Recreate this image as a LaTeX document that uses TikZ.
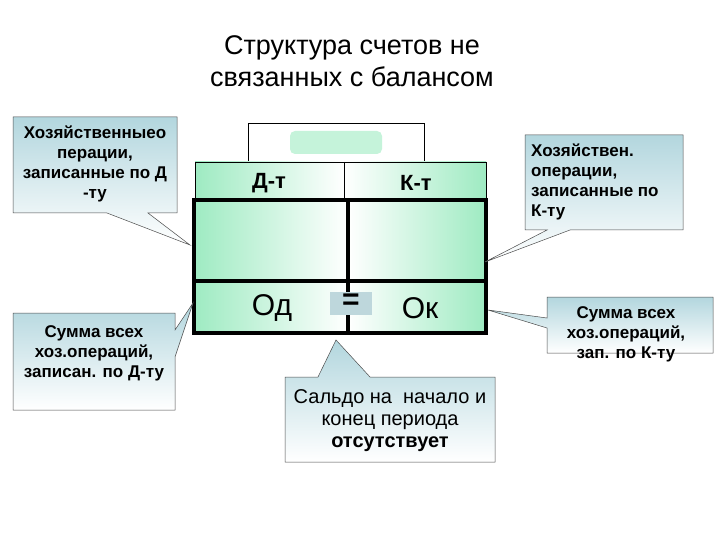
\documentclass[tikz,border=0pt]{standalone}
\usepackage{fontspec}
\setmainfont{Liberation Sans}
\begin{document}
\begin{tikzpicture}[x=1pt,y=-1pt,
  call/.style={draw=black!70,line width=0.5pt,top color=callblue,bottom color=white},
  ctext/.style={font=\fontsize{17}{20}\selectfont\bfseries,align=center,inner sep=0pt},
  thick frame/.style={line width=3.5pt},
  gl/.style={left color=tgreen,right color=white},
  gr/.style={left color=white,right color=tgreen}]
\definecolor{callblue}{rgb}{0.70,0.84,0.87}
\definecolor{tgreen}{rgb}{0.62,0.92,0.76}
\definecolor{eqbox}{RGB}{190,215,220}
\useasboundingbox (0,0) rectangle (720,540);
\fill[white] (0,0) rectangle (720,540);
% title
\node[font=\fontsize{27}{32}\selectfont,align=center] (title) at (352,61) {Структура счетов не\\связанных с балансом};
% top box
\draw[line width=0.6pt] (248,123) rectangle (424,162);
\fill[tgreen!60,rounded corners=5pt] (290,131) rectangle (382,154);
% header
\fill[gl] (195,162) rectangle (344,200);
\fill[gr] (344,162) rectangle (486,200);
\draw[line width=0.6pt] (195,200) -- (195,162) -- (486,162) -- (486,200);
\draw[line width=0.6pt] (344,162) -- (344,200);
% body
\fill[gl] (194,200) rectangle (348,333);
\fill[gr] (348,200) rectangle (486,333);
\draw[thick frame] (194,200) rectangle (486,333);
\draw[thick frame] (194,281) -- (486,281);
\draw[thick frame] (348,200) -- (348,333);
\fill[eqbox] (330,292) rectangle (372,315);
\node[font=\fontsize{22}{24}\selectfont\bfseries] (dt) at (269,183) {Д-т};
\node[font=\fontsize{22}{24}\selectfont\bfseries] (kt) at (416,183) {К-т};
\node[font=\fontsize{30}{32}\selectfont] (od) at (272,308) {Од};
\node[font=\fontsize{30}{32}\selectfont\bfseries] (eq) at (351,302) {=};
\node[font=\fontsize{30}{32}\selectfont] (ok) at (420,308) {Ок};
% callouts
\draw[call] (13,117) -- (177,117) -- (177,213) -- (148,213) -- (190,245) -- (107,213) -- (13,213) -- cycle;
\node[ctext] (c1) at (95,164) {Хозяйственныео\\перации,\\записанные по Д\\-ту};
\draw[call] (13,313) -- (175,313) -- (175,330) -- (193,303) -- (175,357) -- (175,410) -- (13,410) -- cycle;
\node[ctext] (c2) at (94,353) {Сумма всех\\хоз.операций,\\записан. по Д-ту};
\draw[call] (525,135) -- (683,135) -- (683,230) -- (570,230) -- (485,262) -- (547,230) -- (525,230) -- cycle;
\node[ctext,align=left,anchor=west] (c3) at (531,182) {Хозяйствен.\\операции,\\записанные по\\К-ту};
\draw[call] (547,297) -- (713,297) -- (713,353) -- (547,353) -- (547,328) -- (488,310) -- (547,318) -- cycle;
\node[ctext] (c4) at (626,334) {Сумма всех\\хоз.операций,\\зап. по К-ту};
\draw[call] (285,377) -- (318,377) -- (336,340) -- (370,377) -- (495,377) -- (495,462) -- (285,462) -- cycle;
\node[font=\fontsize{20}{22}\selectfont,align=center,inner sep=0pt] (c5) at (390,421) {Сальдо на\ \ начало и\\конец периода\\\textbf{отсутствует}};
\end{tikzpicture}
\end{document}
